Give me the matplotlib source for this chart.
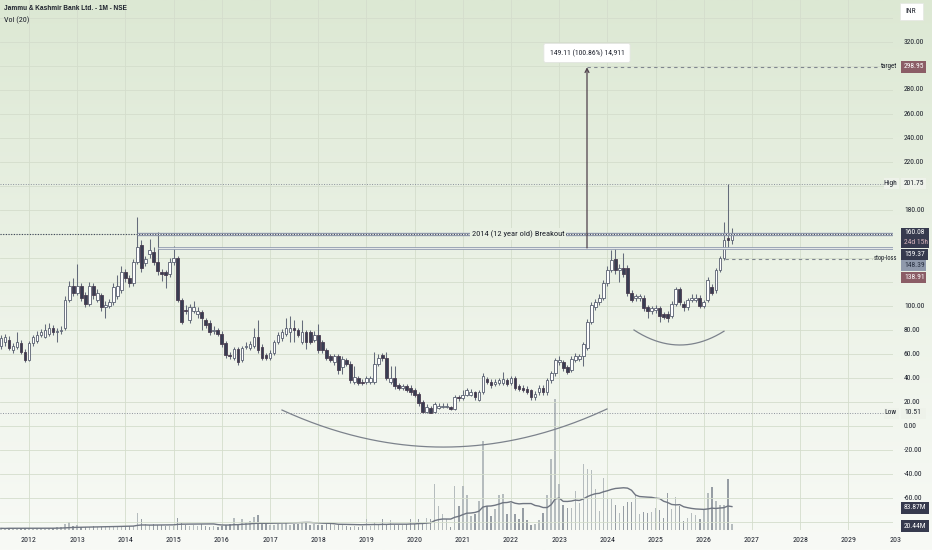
import numpy as np
import pandas as pd
import matplotlib
matplotlib.use("Agg")
import matplotlib.pyplot as plt
from matplotlib.patches import Rectangle
from matplotlib import font_manager
from matplotlib.font_manager import FontProperties

plt.rcParams['font.family'] = ['Liberation Sans', 'DejaVu Sans']

# pick a condensed sans if one is installed (TradingView text is narrow)
_cond = None
_pref = ['Roboto', 'Open Sans', 'Liberation', 'Noto Sans', 'DejaVu Sans']
_cands = []
for f in font_manager.fontManager.ttflist:
    nm = (f.fname.split('/')[-1]).lower()
    is_cond = ('condensed' in nm or 'narrow' in nm or str(f.stretch) in ('condensed', 'semi-condensed'))
    if is_cond and f.style == 'normal' and f.weight in (400, 'normal', 'regular') \
            and 'bold' not in nm and 'light' not in nm and 'mono' not in nm and 'italic' not in nm \
            and 'oblique' not in nm and 'cjk' not in nm:
        rank = next((i for i, p in enumerate(_pref) if f.name.startswith(p)), 99)
        _cands.append((rank, f.fname))
if _cands:
    _cands.sort()
    _cond = _cands[0][1]
K = 1.15 if _cond else 1.04

def fp(size, bold=False):
    if _cond and not bold:
        return FontProperties(fname=_cond, size=size * K)
    return FontProperties(family=['Liberation Sans', 'DejaVu Sans'], size=size * (1.0 if not _cond else 1.0),
                          weight='bold' if bold else 'normal')

# ---------------- data (monthly candles, Jun 2011 .. Jul 2026) ----------------
start_year = 2011 + 5 / 12.0
opens = [67, 70, 72, 63, 66, 69, 62, 55, 69, 71, 76, 74, 77, 82, 78, 79,
         82, 105, 117, 111, 117, 109, 102, 117, 105, 109, 99, 100, 103, 108, 113, 128,
         123, 119, 137, 151, 136, 143, 145, 137, 128, 128, 127, 137, 140, 105, 97, 88,
         96, 93, 95, 88, 86, 79, 80, 77, 69, 59, 57, 64, 55, 66, 65, 67,
         74, 66, 59, 57, 61, 70, 73, 77, 78, 82, 80, 70, 78, 78, 72, 76,
         70, 63, 58, 53, 58, 49, 55, 52, 37, 40, 37, 37, 37, 37, 52, 59,
         57, 37, 40, 34, 32, 33, 32, 30, 27, 20, 12, 15, 12, 15, 16, 16,
         16, 14, 24, 23, 26, 26, 28, 22, 28, 39, 37, 35, 36, 36, 38, 36,
         40, 33, 32, 31, 30, 24, 28, 32, 28, 38, 44, 53, 53, 49, 47, 55,
         56, 58, 65, 87, 99, 103, 107, 119, 130, 139, 130, 132, 132, 111, 107, 107,
         107, 99, 96, 97, 98, 93, 93, 92, 102, 114, 102, 99, 105, 105, 107, 100,
         105, 116, 113, 130, 140, 157, 155]
closes = [73, 74, 65, 67, 70, 62, 55, 69, 74, 76, 78, 80, 82, 78, 79, 80,
          105, 117, 111, 117, 107, 102, 117, 109, 111, 99, 101, 103, 116, 117, 128, 123,
          119, 137, 149, 132, 139, 147, 137, 129, 127, 126, 137, 140, 105, 87, 96, 99,
          99, 96, 90, 84, 78, 80, 77, 68, 59, 58, 64, 53, 65, 67, 68, 74,
          63, 57, 57, 61, 70, 76, 78, 82, 82, 80, 76, 78, 70, 70, 76, 63,
          63, 57, 55, 58, 47, 56, 52, 38, 41, 36, 36, 40, 40, 52, 57, 57,
          40, 40, 33, 32, 33, 30, 28, 26, 19, 12, 16, 11, 18, 17, 17, 17,
          14, 24, 23, 26, 30, 28, 24, 28, 42, 37, 34, 37, 38, 39, 35, 40,
          32, 31, 30, 28, 24, 27, 32, 28, 38, 44, 55, 55, 48, 45, 56, 58,
          58, 68, 87, 101, 103, 107, 119, 130, 138, 130, 132, 127, 111, 105, 108, 108,
          98, 96, 98, 98, 92, 91, 90, 102, 114, 103, 99, 105, 107, 107, 100, 103,
          122, 111, 130, 140, 155, 155, 160.08]
highs = [76, 77, 75, 69, 78, 72, 64, 71, 76, 79, 81, 85, 86, 84, 82, 83,
         108, 121, 123, 135, 119, 112, 120, 119, 114, 111, 104, 106, 119, 126, 133, 131,
         126, 139, 174, 155, 142, 156, 149, 162, 131, 130, 140, 150, 142, 107, 101, 102,
         104, 99, 97, 90, 88, 83, 82, 79, 71, 62, 66, 66, 67, 70, 71, 82,
         88, 68, 61, 63, 72, 78, 81, 90, 92, 88, 82, 88, 80, 80, 79, 85,
         72, 65, 60, 60, 60, 58, 57, 54, 50, 42, 39, 42, 42, 62, 60, 61,
         62, 50, 50, 36, 35, 35, 34, 32, 28, 22, 18, 17, 20, 19, 19, 19,
         17, 26, 26, 30, 32, 31, 29, 30, 44, 41, 39, 39, 40, 45, 40, 42,
         42, 35, 34, 33, 31, 29, 34, 34, 40, 46, 57, 58, 55, 51, 58, 61,
         60, 70, 89, 103, 106, 110, 122, 133, 147, 148, 135, 144, 134, 113, 110, 110,
         109, 101, 100, 101, 100, 95, 96, 104, 116, 116, 104, 107, 110, 110, 109, 105,
         124, 118, 132, 142, 170, 201.75, 165]
lows = [64, 67, 63, 61, 64, 60, 53, 54, 67, 69, 74, 73, 75, 76, 70, 77,
        80, 103, 108, 109, 104, 99, 100, 106, 103, 96, 90, 98, 101, 106, 111, 120,
        116, 117, 135, 128, 133, 140, 134, 126, 121, 115, 124, 134, 103, 85, 93, 86,
        94, 90, 80, 82, 76, 77, 75, 66, 57, 56, 55, 51, 53, 64, 63, 65,
        61, 55, 55, 55, 59, 68, 71, 75, 70, 70, 74, 68, 64, 68, 70, 61,
        61, 55, 53, 51, 43, 43, 50, 36, 35, 34, 34, 35, 35, 35, 50, 54,
        38, 35, 31, 30, 30, 28, 26, 24, 17, 10.51, 11, 10.6, 11, 14, 15, 15,
        13, 13, 21, 22, 25, 25, 22, 21, 27, 35, 32, 33, 34, 34, 33, 34,
        30, 29, 28, 27, 22, 22, 26, 26, 26, 36, 42, 51, 46, 43, 45, 53,
        54, 50, 63, 85, 97, 101, 105, 117, 128, 127, 120, 124, 108, 103, 104, 104,
        96, 90, 93, 94, 87, 89, 87, 90, 100, 101, 96, 97, 103, 103, 98, 98,
        103, 109, 111, 128, 138, 148, 152]
volumes = [6, 5, 7, 6, 5, 8, 7, 6, 5, 6, 7, 5, 6, 8, 9, 12,
           20, 28, 14, 18, 12, 10, 12, 13, 11, 10, 12, 14, 13, 12, 14, 12,
           13, 15, 58, 40, 22, 18, 20, 18, 16, 14, 13, 15, 42, 25, 18, 15,
           16, 14, 20, 13, 12, 14, 12, 15, 16, 20, 42, 22, 40, 26, 30, 45,
           54, 22, 20, 18, 16, 20, 22, 24, 18, 20, 22, 26, 24, 18, 20, 16,
           18, 20, 22, 18, 16, 20, 14, 12, 14, 12, 13, 38, 15, 28, 18, 38,
           20, 35, 18, 16, 18, 20, 38, 22, 40, 26, 43, 37, 160, 84, 55, 37,
           12, 154, 84, 154, 121, 49, 55, 102, 312, 84, 49, 72, 121, 125, 55, 93,
           55, 37, 78, 34, 16, 20, 35, 58, 121, 247, 457, 160, 86, 76, 78, 137,
           96, 232, 215, 209, 145, 67, 182, 107, 110, 86, 58, 84, 98, 98, 121, 55,
           63, 58, 63, 78, 70, 43, 128, 72, 116, 84, 32, 42, 58, 51, 40, 72,
           128, 151, 102, 86, 86, 177, 20.44]
year_ticks = list(range(2012, 2030))
price_ticks = [320, 280, 260, 240, 220, 180, 100, 80, 60, 40, 20, 0, -20, -40, -60]

opens = np.array(opens, float); closes = np.array(closes, float)
highs = np.array(highs, float); lows = np.array(lows, float)
volumes = np.array(volumes, float)
n = len(closes)
t = start_year + np.arange(n) / 12.0
vol_ma = pd.Series(volumes).rolling(20, min_periods=1).mean().values

# ---------------- layout helpers ----------------
W, H = 932, 550
PLOT_R = 893
def px2t(x):
    return 2012 + (x - 29) / 48.2

top_c = np.array([0xdc, 0xe8, 0xd3]) / 255.0
bot_c = np.array([0xf8, 0xfa, 0xf6]) / 255.0
def bgcol(ypix):
    f = min(max(ypix / H, 0), 1) ** 0.9
    return tuple(top_c * (1 - f) + bot_c * f)

fig = plt.figure(figsize=(W / 100, H / 100), dpi=100)
bg = fig.add_axes([0, 0, 1, 1])
grad = np.array([bgcol(y) for y in np.linspace(0, H, 300)])[:, None, :]
bg.imshow(grad, aspect='auto', extent=[0, 1, 0, 1])
bg.set_axis_off()
bg.set_zorder(0)

rect = [0, 20 / H, PLOT_R / W, 530 / H]
vax = fig.add_axes(rect)
ax = fig.add_axes(rect)
for a in (vax, ax):
    a.set_xlim(px2t(0), px2t(PLOT_R))
    a.patch.set_visible(False)
    a.set_axis_off()
ax.set_ylim((426 - 530) / 1.2, 426 / 1.2)
vax.set_ylim(0, 530 / 0.286)
vax.set_zorder(1)
ax.set_zorder(2)

grid_c = '#d4ddcc'
for yr in year_ticks + [2030]:
    vax.axvline(yr, color=grid_c, lw=0.6, zorder=0)
for p in range(-80, 360, 20):
    ax.axhline(p, color=grid_c, lw=0.6, zorder=0)

# ---------------- volume ----------------
up = closes >= opens
vcol = np.where(up, '#b5bcbe', '#969da4')
vax.bar(t, volumes, width=0.03, color=vcol, zorder=2)
vax.plot(t, vol_ma, color='#6f7581', lw=1.0, zorder=3)

# ---------------- candles ----------------
wick_c = '#656c7b'
ax.vlines(t, lows, highs, color=wick_c, lw=0.75, zorder=3)
body_b = np.minimum(opens, closes)
body_h = np.maximum(np.abs(closes - opens), 0.9)
ax.bar(t[up], body_h[up], bottom=body_b[up], width=0.056, color='white',
       edgecolor='#585f70', lw=0.6, zorder=4)
ax.bar(t[~up], body_h[~up], bottom=body_b[~up], width=0.056, color='#383d52',
       edgecolor='#4b3d50', lw=0.6, zorder=4)

# ---------------- drawings ----------------
TXT = '#1c202b'
x_right = px2t(PLOT_R)
ax.plot([px2t(0), px2t(883)], [201.75, 201.75], color='#8d939c', lw=0.7, ls=(0, (1, 1.6)), zorder=2)
ax.plot([px2t(0), px2t(883)], [10.51, 10.51], color='#8d939c', lw=0.7, ls=(0, (1, 1.6)), zorder=2)
i14 = 34
ax.plot([t[i14], x_right], [160.08, 160.08], color='#8c95a8', lw=2.4, zorder=5, solid_capstyle='butt')
ax.plot([t[i14], x_right], [160.08, 160.08], color='#f4f6f2', lw=0.8, zorder=5, solid_capstyle='butt')
ax.plot([px2t(0), x_right], [160.08, 160.08], color='#3b4257', lw=0.8, ls=(0, (1, 1.4)), zorder=6)
i2 = 39
ax.plot([t[i2], x_right], [148.39, 148.39], color='#95a0b3', lw=2.0, zorder=5, solid_capstyle='butt')
ax.plot([t[i2], x_right], [148.39, 148.39], color='#f4f6f2', lw=0.6, zorder=5, solid_capstyle='butt')
ax.text(px2t(518), 160.08, '2014 (12 year old) Breakout', ha='center', va='center',
        fontproperties=fp(5.3), color=TXT, zorder=7,
        bbox=dict(boxstyle='square,pad=0.25', fc=bgcol(233), ec='none'))
tx = px2t(587)
ax.annotate('', xy=(tx, 298.95), xytext=(tx, 148.39),
            arrowprops=dict(arrowstyle='->', color='#4e3f4a', lw=0.9, mutation_scale=7,
                            shrinkA=0, shrinkB=0), zorder=6)
ax.plot([tx, px2t(880)], [298.95, 298.95], color='#80868f', lw=0.8, ls=(0, (3, 3)), zorder=5)
ax.text(tx, (426 - 53) / 1.2, '149.11 (100.86%) 14,911', ha='center', va='center',
        fontproperties=fp(4.8), color=TXT, zorder=8,
        bbox=dict(boxstyle='round,pad=0.75,rounding_size=0.25', fc='white', ec='#e2e5e0', lw=0.6))
ax.plot([t[-3] + 0.02, px2t(872)], [138.91, 138.91], color='#80868f', lw=0.8, ls=(0, (3, 3)), zorder=5)

def arc(p3, col='#7c828c'):
    xs = [q[0] for q in p3]; ys = [q[1] for q in p3]
    c = np.polyfit(xs, ys, 2)
    xx = np.linspace(xs[0], xs[-1], 200)
    ax.plot(xx, np.polyval(c, xx), color=col, lw=0.9, zorder=3)
arc([(px2t(282), 13.3), (px2t(450), -17.5), (px2t(607), 14.2)])
arc([(px2t(634), 80.0), (px2t(680), 67.5), (px2t(724), 79.0)])

# ---------------- text: top-left ----------------
fig.text(4 / W, 1 - 9 / H, 'Jammu & Kashmir Bank Ltd. - 1M - NSE', fontproperties=fp(4.7, bold=True),
         color=TXT, va='center', ha='left')
fig.text(4 / W, 1 - 20.5 / H, 'Vol (20)', fontproperties=fp(5.0), color=TXT, va='center', ha='left')

# ---------------- right price scale ----------------
FS = 4.7
def ypx(p):
    return 426 - 1.2 * p
for p in price_ticks:
    fig.text(904 / W, 1 - ypx(p) / H, f'{p:.2f}', fontproperties=fp(FS), color=TXT,
             va='center', ha='left')

def box(x0, x1, yc, h, fc, ec='none'):
    fig.patches.append(Rectangle((x0 / W, 1 - (yc + h / 2) / H), (x1 - x0) / W, h / H,
                                 transform=fig.transFigure, fc=fc, ec=ec, lw=0.5, zorder=10))

def label(yc, txt, fc, tc, x0=901, x1=926, h=11):
    box(x0, x1, yc, h, fc)
    fig.text((x0 + 3) / W, 1 - yc / H, txt, fontproperties=fp(FS), color=tc, va='center', ha='left', zorder=11)

light = '#eef2ea'
dark = '#363a4e'
maroon = '#8b5d66'
box(900, 923, 11.5, 17, 'white', '#e4e7e2')
fig.text(911 / W, 1 - 11.5 / H, 'INR', fontproperties=fp(FS), color=TXT, va='center', ha='center', zorder=11)
label(67, '298.95', maroon, 'white')
fig.text(897 / W, 1 - 67 / H, 'target', fontproperties=fp(4.3), color=TXT, va='center', ha='right', zorder=11)
box(884, 899, 184, 11, light)
fig.text(897 / W, 1 - 184 / H, 'High', fontproperties=fp(FS), color=TXT, va='center', ha='right', zorder=11)
label(184, '201.75', light, TXT)
box(901, 929, 238, 20, dark)
fig.text(904 / W, 1 - 233 / H, '160.08', fontproperties=fp(FS), color='white', va='center', ha='left', zorder=11)
fig.text(904 / W, 1 - 242.5 / H, '24d 15h', fontproperties=fp(FS), color='#d7b3bc', va='center', ha='left', zorder=11)
label(254, '159.37', dark, 'white', x1=928)
label(265.5, '148.39', '#8f99ab', '#283040')
label(277.5, '138.91', maroon, 'white')
fig.text(897 / W, 1 - 259 / H, 'stop-loss', fontproperties=fp(4.1), color=TXT, va='center', ha='right', zorder=11)
box(884, 899, 413, 11, light)
fig.text(897 / W, 1 - 413 / H, 'Low', fontproperties=fp(FS), color=TXT, va='center', ha='right', zorder=11)
label(413, '10.51', light, TXT)
label(507.5, '83.87M', dark, 'white', x1=929, h=12)
label(526, '20.44M', dark, 'white', x1=929, h=12)

# ---------------- x axis labels ----------------
for yr in year_ticks:
    xp = 29 + 48.2 * (yr - 2012)
    fig.text(xp / W, 1 - 540.5 / H, str(yr), fontproperties=fp(4.9), color=TXT, va='center', ha='center')
fig.text(896 / W, 1 - 540.5 / H, '203', fontproperties=fp(4.9), color=TXT, va='center', ha='center')

fig.savefig('out.png', dpi=100)
